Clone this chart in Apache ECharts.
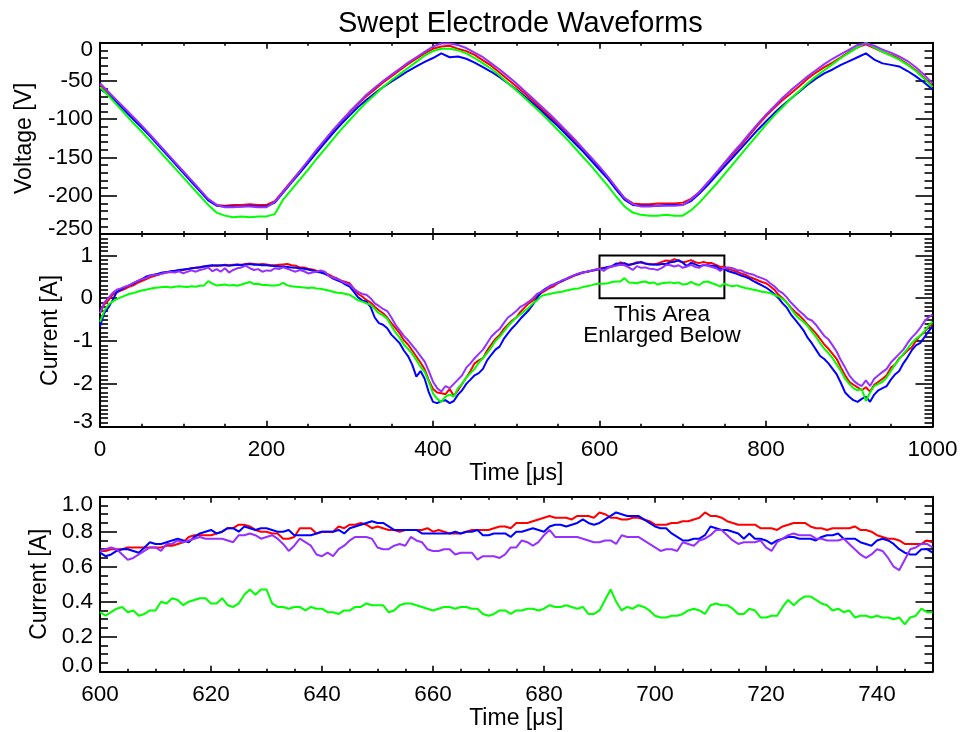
<!DOCTYPE html>
<html>
<head>
<meta charset="utf-8">
<script src="https://cdn.jsdelivr.net/npm/echarts@6/dist/echarts.min.js"></script>
<style>
  html, body { margin: 0; padding: 0; background: #ffffff; }
  #chart { width: 961px; height: 732px; }
</style>
</head>
<body>
<div id="chart"></div>
<script>
// ---- Sampling grids (time in microseconds) ----
const voltStart = 0, voltStep = 10;
const currStart = 0, currStep = 5;
const zoomStart = 600, zoomStep = 1;

// Window of the middle panel that is shown enlarged in the bottom panel
const zoomTimeRange = [600, 750];
const zoomCurrentRange = [0, 1];

// ---- Electrode voltage [V], one value every 10 us from 0 to 1000 ----
const voltRed = [-55,-66,-77,-88,-99,-110,-121,-133,-145,-157,
  -169,-181,-193,-205,-212,-213,-212,-212,-211,-212,
  -212,-207,-194,-181,-168,-155,-141,-128,-115,-103,
  -91,-80,-70,-61,-52,-44,-36,-28,-21,-14,
  -8,-5,-4,-8,-11,-16,-23,-30,-39,-48,
  -57,-66,-76,-86,-96,-106,-117,-128,-139,-151,
  -163,-176,-190,-203,-210,-211,-211,-210,-210,-210,
  -209,-204,-195,-183,-171,-158,-146,-134,-121,-108,
  -96,-85,-75,-66,-57,-47,-39,-32,-26,-19,
  -12,-6,-2,-7,-12,-16,-21,-28,-36,-46,
  -57];
const voltBlue = [-60,-68,-78,-89,-100,-111,-122,-134,-146,-158,
  -170,-182,-194,-206,-213,-214,-214,-214,-213,-214,
  -214,-209,-196,-183,-170,-157,-144,-131,-118,-106,
  -95,-84,-75,-66,-58,-51,-44,-37,-31,-25,
  -20,-14,-19,-18,-21,-26,-32,-38,-45,-53,
  -61,-70,-79,-89,-99,-109,-120,-131,-142,-154,
  -166,-178,-192,-205,-212,-213,-213,-213,-212,-212,
  -212,-207,-197,-186,-174,-162,-150,-138,-126,-114,
  -103,-92,-82,-73,-64,-55,-47,-40,-35,-29,
  -24,-19,-14,-22,-27,-29,-31,-37,-44,-52,
  -61];
const voltGreen = [-58,-69,-81,-93,-105,-116,-128,-140,-152,-164,
  -176,-188,-200,-212,-222,-226,-228,-227,-228,-227,
  -227,-224,-205,-192,-179,-166,-152,-139,-126,-113,
  -101,-89,-78,-68,-58,-49,-41,-33,-25,-17,
  -11,-8,-8,-10,-14,-20,-27,-34,-43,-53,
  -62,-72,-82,-92,-103,-114,-125,-137,-149,-161,
  -174,-187,-201,-214,-222,-225,-226,-226,-225,-226,
  -226,-219,-209,-197,-185,-172,-159,-146,-133,-120,
  -107,-95,-84,-73,-63,-53,-44,-36,-28,-20,
  -13,-6,0,-6,-12,-17,-22,-29,-37,-47,
  -58];
const voltPurple = [-53,-64,-75,-86,-97,-108,-120,-132,-144,-156,
  -168,-180,-192,-204,-212,-215,-215,-214,-214,-215,
  -215,-208,-195,-182,-168,-154,-140,-127,-114,-102,
  -90,-79,-68,-59,-50,-42,-34,-26,-19,-12,
  -5,-1,-1,-3,-7,-13,-19,-27,-35,-44,
  -53,-63,-73,-83,-93,-104,-115,-126,-138,-150,
  -162,-175,-189,-203,-211,-214,-214,-213,-213,-213,
  -212,-205,-195,-183,-170,-157,-144,-132,-119,-106,
  -94,-83,-72,-62,-53,-44,-36,-28,-21,-15,
  -9,-3,-1,-4,-9,-13,-18,-24,-32,-42,
  -53];

// ---- Electrode current [A], one value every 5 us from 0 to 1000 ----
const currRed = [-0.35,-0.15,-0.05,0.08,0.14,0.18,0.22,0.27,0.30,0.36,
  0.40,0.44,0.49,0.52,0.55,0.58,0.60,0.62,0.63,0.65,
  0.66,0.68,0.70,0.71,0.73,0.74,0.75,0.76,0.77,0.76,
  0.78,0.77,0.78,0.79,0.78,0.80,0.81,0.80,0.79,0.80,
  0.79,0.77,0.77,0.78,0.79,0.80,0.77,0.76,0.72,0.72,
  0.69,0.67,0.64,0.63,0.59,0.55,0.50,0.46,0.41,0.38,
  0.35,0.22,0.10,0.04,-0.04,-0.10,-0.20,-0.28,-0.35,-0.45,
  -0.58,-0.70,-0.82,-0.98,-1.08,-1.22,-1.36,-1.50,-1.66,-1.92,
  -2.12,-2.20,-2.22,-2.24,-2.12,-2.28,-2.15,-2.00,-1.85,-1.70,
  -1.52,-1.45,-1.40,-1.22,-1.08,-0.95,-0.86,-0.72,-0.62,-0.52,
  -0.45,-0.32,-0.22,-0.12,-0.05,0.05,0.12,0.18,0.24,0.28,
  0.35,0.40,0.44,0.48,0.53,0.56,0.60,0.62,0.64,0.66,
  0.69,0.71,0.71,0.74,0.78,0.84,0.80,0.77,0.80,0.84,
  0.83,0.81,0.80,0.79,0.81,0.85,0.88,0.87,0.91,0.87,
  0.84,0.86,0.89,0.84,0.82,0.85,0.82,0.82,0.78,0.73,
  0.74,0.68,0.65,0.62,0.58,0.55,0.50,0.46,0.42,0.38,
  0.35,0.28,0.20,0.08,0.00,-0.10,-0.22,-0.32,-0.40,-0.50,
  -0.62,-0.72,-0.82,-0.95,-1.08,-1.18,-1.30,-1.42,-1.62,-1.80,
  -1.95,-2.02,-2.08,-2.15,-2.08,-2.18,-2.02,-1.95,-1.88,-1.80,
  -1.62,-1.55,-1.40,-1.32,-1.22,-1.15,-1.00,-0.88,-0.80,-0.68,
  -0.60];
const currBlue = [-0.66,-0.35,-0.22,-0.05,0.14,0.20,0.26,0.30,0.34,0.40,
  0.44,0.50,0.53,0.55,0.57,0.60,0.61,0.63,0.64,0.66,
  0.67,0.68,0.70,0.71,0.72,0.74,0.76,0.77,0.76,0.77,
  0.77,0.76,0.77,0.78,0.77,0.79,0.80,0.78,0.78,0.77,
  0.77,0.76,0.75,0.74,0.74,0.73,0.72,0.71,0.70,0.69,
  0.67,0.65,0.62,0.60,0.57,0.52,0.46,0.42,0.38,0.32,
  0.27,0.15,0.02,-0.05,-0.08,-0.20,-0.45,-0.58,-0.62,-0.70,
  -0.85,-0.95,-1.05,-1.22,-1.35,-1.55,-1.83,-1.70,-1.88,-2.20,
  -2.42,-2.45,-2.40,-2.38,-2.45,-2.40,-2.25,-2.15,-2.00,-1.90,
  -1.80,-1.75,-1.65,-1.45,-1.32,-1.20,-1.13,-0.95,-0.82,-0.70,
  -0.60,-0.48,-0.38,-0.28,-0.15,0.00,0.15,0.22,0.28,0.32,
  0.37,0.40,0.45,0.50,0.54,0.57,0.60,0.62,0.64,0.66,
  0.68,0.70,0.73,0.75,0.81,0.80,0.82,0.78,0.80,0.82,
  0.85,0.81,0.79,0.79,0.78,0.80,0.80,0.84,0.85,0.89,
  0.83,0.75,0.83,0.79,0.75,0.77,0.77,0.76,0.75,0.68,
  0.68,0.63,0.60,0.57,0.53,0.50,0.46,0.40,0.35,0.30,
  0.25,0.18,0.10,0.00,-0.12,-0.22,-0.38,-0.50,-0.62,-0.75,
  -0.92,-1.05,-1.20,-1.35,-1.42,-1.52,-1.65,-1.78,-1.98,-2.20,
  -2.30,-2.38,-2.42,-2.35,-2.30,-2.42,-2.25,-2.15,-2.10,-2.05,
  -1.90,-1.78,-1.70,-1.52,-1.38,-1.22,-1.10,-1.05,-0.92,-0.78,
  -0.66];
const currGreen = [-0.55,-0.30,-0.15,-0.08,-0.02,0.02,0.06,0.10,0.12,0.15,
  0.18,0.20,0.22,0.24,0.25,0.26,0.27,0.25,0.27,0.28,
  0.27,0.26,0.28,0.27,0.29,0.30,0.40,0.34,0.30,0.31,
  0.32,0.30,0.31,0.29,0.32,0.35,0.38,0.33,0.34,0.31,
  0.31,0.30,0.30,0.31,0.36,0.30,0.28,0.27,0.26,0.25,
  0.24,0.25,0.23,0.22,0.20,0.18,0.15,0.13,0.12,0.10,
  0.08,0.02,-0.05,-0.08,-0.12,-0.15,-0.25,-0.35,-0.40,-0.48,
  -0.65,-0.80,-0.92,-1.08,-1.18,-1.30,-1.44,-1.60,-1.72,-1.95,
  -2.22,-2.35,-2.42,-2.30,-2.25,-2.30,-2.10,-2.00,-1.85,-1.75,
  -1.65,-1.50,-1.40,-1.28,-1.15,-1.00,-0.90,-0.78,-0.65,-0.55,
  -0.45,-0.38,-0.30,-0.22,-0.12,-0.05,0.05,0.08,0.10,0.12,
  0.14,0.15,0.18,0.20,0.22,0.23,0.26,0.28,0.30,0.33,
  0.34,0.34,0.35,0.38,0.39,0.39,0.47,0.37,0.36,0.35,
  0.38,0.39,0.35,0.37,0.32,0.35,0.36,0.37,0.35,0.37,
  0.32,0.33,0.38,0.33,0.31,0.38,0.39,0.35,0.32,0.27,
  0.34,0.30,0.28,0.30,0.27,0.24,0.22,0.20,0.18,0.15,
  0.14,0.12,0.08,0.04,-0.02,-0.10,-0.25,-0.38,-0.48,-0.55,
  -0.65,-0.78,-0.90,-1.05,-1.18,-1.28,-1.40,-1.55,-1.70,-1.88,
  -2.00,-2.10,-2.15,-2.12,-2.40,-2.20,-2.05,-2.00,-1.95,-1.85,
  -1.70,-1.55,-1.42,-1.30,-1.18,-1.05,-0.95,-0.88,-0.78,-0.65,
  -0.55];
const currPurple = [-0.35,-0.10,0.00,0.12,0.20,0.23,0.27,0.30,0.36,0.40,
  0.45,0.47,0.52,0.55,0.55,0.58,0.60,0.61,0.60,0.63,
  0.58,0.62,0.65,0.62,0.66,0.68,0.72,0.63,0.68,0.62,
  0.70,0.60,0.66,0.70,0.72,0.76,0.70,0.66,0.68,0.62,
  0.65,0.64,0.70,0.68,0.72,0.69,0.65,0.62,0.66,0.63,
  0.58,0.60,0.62,0.65,0.62,0.52,0.48,0.45,0.40,0.35,
  0.32,0.22,0.15,0.10,0.08,0.00,-0.12,-0.18,-0.25,-0.30,
  -0.45,-0.62,-0.75,-0.88,-0.98,-1.10,-1.22,-1.35,-1.48,-1.70,
  -1.95,-2.10,-2.18,-2.05,-2.10,-2.00,-1.90,-1.80,-1.62,-1.52,
  -1.40,-1.30,-1.20,-1.05,-0.90,-0.80,-0.72,-0.58,-0.45,-0.38,
  -0.30,-0.20,-0.15,-0.08,0.00,0.10,0.15,0.20,0.28,0.32,
  0.36,0.42,0.45,0.50,0.54,0.58,0.60,0.62,0.64,0.67,
  0.69,0.64,0.71,0.74,0.76,0.78,0.77,0.72,0.66,0.75,
  0.71,0.72,0.69,0.68,0.66,0.71,0.78,0.77,0.74,0.77,
  0.71,0.74,0.78,0.73,0.71,0.79,0.76,0.73,0.70,0.64,
  0.71,0.72,0.70,0.66,0.65,0.60,0.57,0.55,0.50,0.47,
  0.43,0.35,0.28,0.18,0.12,0.02,-0.10,-0.20,-0.30,-0.38,
  -0.48,-0.52,-0.62,-0.75,-0.88,-0.96,-1.10,-1.25,-1.45,-1.62,
  -1.80,-1.92,-2.00,-2.05,-1.92,-2.05,-1.88,-1.80,-1.72,-1.65,
  -1.50,-1.40,-1.30,-1.20,-1.05,-0.92,-0.82,-0.70,-0.55,-0.45,
  -0.38];

// ---- Enlarged current [A], one value every 1 us from 600 to 750 ----
const zoomRed = [0.69,0.69,0.70,0.70,0.70,0.71,0.71,0.71,0.71,0.71,
  0.71,0.71,0.72,0.72,0.73,0.74,0.77,0.78,0.78,0.78,
  0.78,0.79,0.80,0.82,0.82,0.84,0.84,0.83,0.81,0.80,
  0.80,0.79,0.79,0.76,0.76,0.77,0.82,0.82,0.82,0.79,
  0.80,0.80,0.80,0.83,0.82,0.84,0.84,0.85,0.84,0.82,
  0.83,0.82,0.81,0.81,0.80,0.81,0.81,0.81,0.81,0.82,
  0.80,0.81,0.80,0.79,0.79,0.79,0.80,0.81,0.81,0.81,
  0.81,0.82,0.83,0.83,0.82,0.85,0.85,0.85,0.86,0.87,
  0.88,0.89,0.88,0.88,0.88,0.87,0.89,0.89,0.89,0.88,
  0.91,0.90,0.88,0.88,0.87,0.87,0.88,0.88,0.87,0.86,
  0.84,0.84,0.84,0.85,0.85,0.86,0.86,0.87,0.88,0.91,
  0.89,0.89,0.88,0.86,0.85,0.84,0.84,0.84,0.84,0.82,
  0.82,0.82,0.81,0.83,0.84,0.85,0.85,0.85,0.83,0.82,
  0.82,0.81,0.82,0.82,0.82,0.82,0.83,0.81,0.81,0.80,
  0.78,0.77,0.76,0.76,0.75,0.73,0.73,0.73,0.73,0.75,
  0.74];
const zoomBlue = [0.68,0.66,0.67,0.69,0.70,0.70,0.69,0.68,0.71,0.74,
  0.73,0.73,0.74,0.75,0.76,0.75,0.74,0.77,0.79,0.80,
  0.81,0.79,0.80,0.82,0.82,0.80,0.83,0.82,0.81,0.82,
  0.82,0.81,0.80,0.80,0.81,0.78,0.78,0.78,0.78,0.79,
  0.80,0.80,0.80,0.81,0.79,0.82,0.83,0.84,0.85,0.86,
  0.85,0.85,0.83,0.81,0.81,0.81,0.81,0.81,0.79,0.79,
  0.79,0.79,0.79,0.79,0.80,0.79,0.80,0.80,0.81,0.78,
  0.78,0.79,0.79,0.79,0.77,0.80,0.80,0.81,0.82,0.81,
  0.80,0.83,0.84,0.84,0.83,0.84,0.85,0.87,0.85,0.84,
  0.85,0.87,0.89,0.91,0.90,0.89,0.89,0.89,0.87,0.85,
  0.83,0.82,0.82,0.79,0.77,0.75,0.75,0.76,0.76,0.78,
  0.83,0.82,0.81,0.81,0.80,0.79,0.76,0.79,0.76,0.76,
  0.75,0.73,0.75,0.76,0.77,0.77,0.76,0.76,0.76,0.75,
  0.77,0.78,0.78,0.79,0.76,0.76,0.76,0.74,0.73,0.72,
  0.75,0.76,0.75,0.73,0.70,0.68,0.67,0.67,0.70,0.70,
  0.68];
const zoomGreen = [0.34,0.32,0.34,0.36,0.37,0.34,0.35,0.32,0.33,0.35,
  0.35,0.40,0.39,0.42,0.41,0.38,0.40,0.41,0.42,0.42,
  0.39,0.39,0.42,0.38,0.37,0.39,0.44,0.47,0.44,0.47,
  0.47,0.39,0.37,0.37,0.36,0.37,0.37,0.35,0.37,0.36,
  0.36,0.34,0.34,0.33,0.35,0.35,0.37,0.37,0.39,0.38,
  0.38,0.38,0.34,0.35,0.38,0.39,0.39,0.38,0.37,0.36,
  0.35,0.36,0.37,0.37,0.36,0.37,0.37,0.36,0.36,0.33,
  0.32,0.33,0.35,0.35,0.33,0.35,0.35,0.36,0.36,0.35,
  0.36,0.38,0.37,0.37,0.38,0.37,0.36,0.37,0.33,0.33,
  0.35,0.41,0.47,0.40,0.35,0.37,0.36,0.38,0.37,0.35,
  0.32,0.31,0.31,0.32,0.32,0.33,0.35,0.36,0.35,0.33,
  0.38,0.39,0.38,0.38,0.36,0.33,0.33,0.36,0.35,0.31,
  0.31,0.32,0.32,0.37,0.41,0.38,0.41,0.43,0.43,0.41,
  0.39,0.38,0.35,0.36,0.34,0.35,0.31,0.32,0.32,0.31,
  0.32,0.31,0.31,0.30,0.31,0.27,0.31,0.32,0.36,0.34,
  0.34];
const zoomPurple = [0.69,0.70,0.71,0.70,0.67,0.64,0.65,0.67,0.69,0.71,
  0.71,0.69,0.73,0.73,0.75,0.74,0.75,0.76,0.77,0.76,
  0.76,0.76,0.76,0.75,0.74,0.78,0.78,0.79,0.78,0.76,
  0.77,0.78,0.76,0.73,0.69,0.72,0.76,0.74,0.72,0.67,
  0.66,0.68,0.66,0.70,0.72,0.75,0.77,0.77,0.77,0.76,
  0.71,0.70,0.70,0.72,0.73,0.72,0.77,0.75,0.74,0.70,
  0.69,0.69,0.70,0.70,0.67,0.68,0.68,0.68,0.64,0.66,
  0.66,0.66,0.65,0.67,0.71,0.71,0.75,0.74,0.72,0.74,
  0.78,0.81,0.77,0.77,0.77,0.77,0.77,0.76,0.75,0.74,
  0.74,0.75,0.75,0.73,0.78,0.77,0.77,0.77,0.75,0.73,
  0.71,0.69,0.70,0.70,0.69,0.74,0.73,0.72,0.75,0.76,
  0.78,0.81,0.81,0.78,0.75,0.73,0.74,0.74,0.74,0.75,
  0.71,0.69,0.74,0.76,0.78,0.79,0.78,0.78,0.78,0.76,
  0.76,0.75,0.75,0.75,0.76,0.73,0.70,0.67,0.65,0.67,
  0.70,0.69,0.65,0.60,0.58,0.64,0.70,0.71,0.73,0.73,
  0.71];

// ---- Styling ----
const FONT = '"Liberation Sans", Arial, Helvetica, sans-serif';
const COLOR = { red: '#ff0000', blue: '#0000ff', green: '#00ff00', purple: '#9630ff' };
const BLACK = '#000000';
const TICK_FONT = 22.5;
const NAME_FONT = 23;

// Pixel boxes of the three panels
const LEFT = 100, WIDTH = 832.5;
const panels = [
  { top: 42.7, height: 191.3 },
  { top: 234, height: 192.7 },
  { top: 496.7, height: 175 }
];

function pairs(start, step, values) {
  return values.map(function (v, i) { return [start + i * step, v]; });
}

function labelStyle(extra) {
  return Object.assign({ color: BLACK, fontSize: TICK_FONT, fontFamily: FONT }, extra || {});
}

// End labels on the value axes sit just inside the frame
function yFormatter(digits, topValue, bottomValue) {
  return function (v) {
    const s = digits ? v.toFixed(digits) : String(Math.round(v));
    if (topValue !== null && Math.abs(v - topValue) < 1e-9) return '{dn|' + s + '}';
    if (bottomValue !== null && Math.abs(v - bottomValue) < 1e-9) return '{up|' + s + '}';
    return s;
  };
}

function plainNumber(v) { return String(Math.round(v)); }

function xAxisDef(grid, range, interval, minorSplit, position, withLabels, showMax, name, nameGap) {
  return {
    type: 'value', gridIndex: grid, position: position,
    min: range[0], max: range[1], interval: interval,
    axisLine: { show: true, onZero: false, lineStyle: { color: BLACK, width: 2 } },
    axisTick: { show: true, inside: true, length: 6, lineStyle: { color: BLACK, width: 1.6 } },
    minorTick: { show: true, splitNumber: minorSplit, length: 3, lineStyle: { color: BLACK, width: 1.6 } },
    splitLine: { show: false },
    minorSplitLine: { show: false },
    axisLabel: withLabels
      ? labelStyle({ show: true, margin: 12, showMinLabel: true, showMaxLabel: showMax, formatter: plainNumber })
      : { show: false },
    name: name || '',
    nameLocation: 'middle',
    nameGap: nameGap || 0,
    nameTextStyle: { color: BLACK, fontSize: NAME_FONT, fontFamily: FONT }
  };
}

function yAxisDef(grid, range, interval, minorSplit, position, formatter, showMax, name, nameGap, dn, up) {
  const def = {
    type: 'value', gridIndex: grid, position: position,
    min: range[0], max: range[1], interval: interval,
    axisLine: { show: true, onZero: false, lineStyle: { color: BLACK, width: 2 } },
    axisTick: { show: true, inside: true, length: 17, lineStyle: { color: BLACK, width: 1.6 } },
    minorTick: { show: true, splitNumber: minorSplit, length: 8, lineStyle: { color: BLACK, width: 1.6 } },
    splitLine: { show: false },
    minorSplitLine: { show: false },
    axisLabel: { show: false },
    name: name || '',
    nameLocation: 'middle',
    nameGap: nameGap || 0,
    nameTextStyle: { color: BLACK, fontSize: NAME_FONT, fontFamily: FONT }
  };
  if (formatter) {
    def.axisLabel = labelStyle({
      show: true, margin: 7, showMinLabel: true, showMaxLabel: showMax,
      formatter: formatter,
      rich: {
        dn: labelStyle({ padding: [dn, 0, 0, 0] }),
        up: labelStyle({ padding: [0, 0, up, 0] })
      }
    });
  }
  return def;
}

const voltRange = [-250, 0];
const currRange = [-3, 1.5];
const timeRange = [0, 1000];

const xAxes = [
  xAxisDef(0, timeRange, 200, 4, 'bottom', false, false),
  xAxisDef(0, timeRange, 200, 4, 'top', false, false),
  xAxisDef(1, timeRange, 200, 4, 'bottom', true, true, 'Time [\u03bcs]', 31),
  xAxisDef(1, timeRange, 200, 4, 'top', false, false),
  xAxisDef(2, zoomTimeRange, 20, 4, 'bottom', true, false, 'Time [\u03bcs]', 34),
  xAxisDef(2, zoomTimeRange, 20, 4, 'top', false, false)
];

const yAxes = [
  yAxisDef(0, voltRange, 50, 5, 'left', yFormatter(0, 0, -250), true, 'Voltage [V]', 64, 15, 11),
  yAxisDef(0, voltRange, 50, 5, 'right', null),
  yAxisDef(1, currRange, 1, 10, 'left', yFormatter(0, null, -3), false, 'Current [A]', 38, 0, 9),
  yAxisDef(1, currRange, 1, 10, 'right', null),
  yAxisDef(2, zoomCurrentRange, 0.2, 4, 'left', yFormatter(1, 1, 0), true, 'Current [A]', 49, 17, 12),
  yAxisDef(2, zoomCurrentRange, 0.2, 4, 'right', null)
];

function trace(name, color, axis, start, step, values) {
  return {
    name: name, type: 'line',
    xAxisIndex: axis, yAxisIndex: axis,
    data: pairs(start, step, values),
    showSymbol: false, symbol: 'none',
    lineStyle: { color: color, width: 2 },
    itemStyle: { color: color },
    silent: true, animation: false
  };
}

const series = [
  trace('Voltage red', COLOR.red, 0, voltStart, voltStep, voltRed),
  trace('Voltage blue', COLOR.blue, 0, voltStart, voltStep, voltBlue),
  trace('Voltage green', COLOR.green, 0, voltStart, voltStep, voltGreen),
  trace('Voltage purple', COLOR.purple, 0, voltStart, voltStep, voltPurple),
  trace('Current red', COLOR.red, 2, currStart, currStep, currRed),
  trace('Current blue', COLOR.blue, 2, currStart, currStep, currBlue),
  trace('Current green', COLOR.green, 2, currStart, currStep, currGreen),
  trace('Current purple', COLOR.purple, 2, currStart, currStep, currPurple),
  trace('Enlarged red', COLOR.red, 4, zoomStart, zoomStep, zoomRed),
  trace('Enlarged blue', COLOR.blue, 4, zoomStart, zoomStep, zoomBlue),
  trace('Enlarged green', COLOR.green, 4, zoomStart, zoomStep, zoomGreen),
  trace('Enlarged purple', COLOR.purple, 4, zoomStart, zoomStep, zoomPurple)
];

// Frame around the enlarged window, with its caption underneath
series[4].markArea = {
  silent: true,
  itemStyle: { color: 'rgba(0,0,0,0)', borderColor: BLACK, borderWidth: 2 },
  label: {
    show: true, position: 'bottom', distance: 5,
    formatter: 'This Area\nEnlarged Below',
    color: BLACK, fontSize: TICK_FONT, fontFamily: FONT, lineHeight: 21, align: 'center'
  },
  data: [[
    { coord: [zoomTimeRange[0], zoomCurrentRange[1]] },
    { coord: [zoomTimeRange[1], zoomCurrentRange[0]] }
  ]]
};

const chart = echarts.init(document.getElementById('chart'), null, { renderer: 'canvas' });
chart.setOption({
  animation: false,
  backgroundColor: '#ffffff',
  title: {
    text: 'Swept Electrode Waveforms',
    left: 333, top: 4,
    textStyle: { color: BLACK, fontSize: 29, fontWeight: 'normal', fontFamily: FONT }
  },
  grid: panels.map(function (p) {
    return { left: LEFT, top: p.top, width: WIDTH, height: p.height, containLabel: false, show: false };
  }),
  xAxis: xAxes,
  yAxis: yAxes,
  series: series
});
</script>
</body>
</html>
